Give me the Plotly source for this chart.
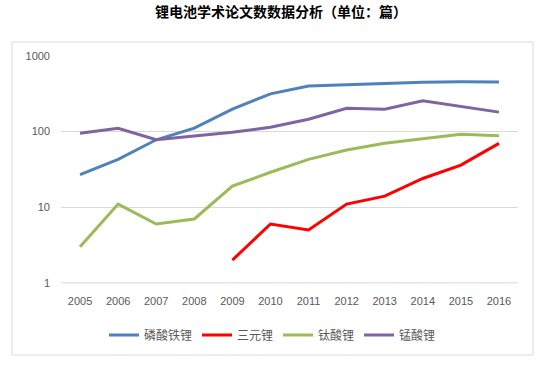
import plotly.graph_objects as go

years = [2005, 2006, 2007, 2008, 2009, 2010, 2011, 2012, 2013, 2014, 2015, 2016]
lfp = [27, 43, 78, 111, 198, 316, 400, 416, 432, 451, 455, 452]        # 磷酸铁锂
ncm = [None, None, None, None, 2, 6, 5, 11, 14, 24, 36, 70]            # 三元锂
lto = [3, 11, 6, 7, 19, 29, 43, 57, 70, 80, 92, 88]                    # 钛酸锂
lmo = [95, 111, 78, 87, 98, 114, 146, 204, 198, 255, 214, 181]         # 锰酸锂
names = ["磷酸铁锂", "三元锂", "钛酸锂", "锰酸锂"]
colors = ["#4F81BD", "#FF0000", "#9BBB59", "#8064A2"]
ytickvals = [1, 10, 100, 1000]
yticktext = ["1", "10", "100", "1000"]

W, H = 543, 372
L, R, T, B = 61, 518, 56, 283
pw, ph = R - L, B - T
ylo, yhi = -0.002, 3

fig = go.Figure()
for name, vals, c in zip(names, [lfp, ncm, lto, lmo], colors):
    fig.add_trace(go.Scatter(x=years, y=vals, name=name, mode="lines",
                             line=dict(color=c, width=3), connectgaps=False))

fig.add_shape(type="rect", xref="paper", yref="paper",
              x0=(12 - L) / pw, x1=(533 - L) / pw,
              y0=(B - 355) / ph, y1=(B - 42) / ph,
              line=dict(color="#D9D9D9", width=1), fillcolor="rgba(0,0,0,0)", layer="below")
# baseline gridline at value 1
fig.add_shape(type="line", xref="paper", yref="paper", x0=0, x1=1,
              y0=(0 - ylo) / (yhi - ylo), y1=(0 - ylo) / (yhi - ylo),
              line=dict(color="#D9D9D9", width=1), layer="below")

fig.update_layout(
    width=W, height=H,
    margin=dict(l=L, r=W - R, t=T, b=H - B, pad=0),
    paper_bgcolor="white", plot_bgcolor="white",
    title=dict(text="<b>锂电池学术论文数数据分析（单位：篇）</b>",
               x=281 / W, xref="container", xanchor="center",
               y=1 - 12.5 / H, yref="container", yanchor="middle",
               font=dict(family="Noto Sans CJK SC", size=14, color="#000000")),
    xaxis=dict(range=[2004.5, 2016.5], tickmode="array", tickvals=years,
               ticktext=[str(y) for y in years], showgrid=False, zeroline=False,
               showline=False, ticks="", ticklabelstandoff=10,
               tickfont=dict(family="Liberation Sans", size=11, color="#595959")),
    yaxis=dict(type="log", range=[ylo, yhi], tickmode="array", tickvals=ytickvals,
               ticktext=yticktext, showgrid=True, gridcolor="#D9D9D9", gridwidth=1,
               zeroline=False, showline=False, ticks="", ticklabelstandoff=10,
               tickfont=dict(family="Liberation Sans", size=11, color="#595959")),
    legend=dict(orientation="h", x=(272.5 - L) / pw, xanchor="center",
                y=(B - 335) / ph, yanchor="middle",
                font=dict(family="Noto Sans CJK SC", size=12, color="#595959"),
                itemwidth=30, bgcolor="rgba(0,0,0,0)"),
    showlegend=True,
)

fig.write_html("out.html", config={"displayModeBar": False},
               post_script="document.body.style.margin='0';document.body.style.padding='0';")
